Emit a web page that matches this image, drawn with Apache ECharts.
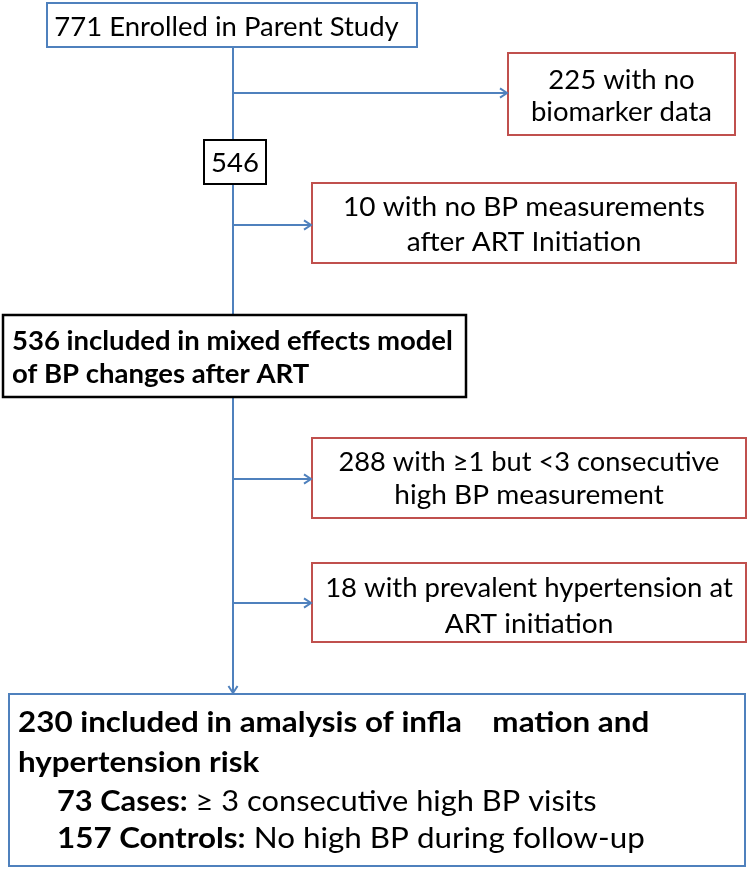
<!DOCTYPE html>
<html>
<head>
<meta charset="utf-8">
<script src="https://cdn.jsdelivr.net/npm/echarts@6/dist/echarts.min.js"></script>
<style>html,body{margin:0;padding:0;background:#fff;}#c{width:750px;height:871px;}</style>
</head>
<body>
<div id="c"></div>
<script>
// ---- data ----
const mainCounts = [771, 546, 536, 230];
const mainLabels = [
  ['Enrolled in Parent Study'],
  [''],
  ['included in mixed effects model', 'of BP changes after ART'],
  ['included in amalysis of infla    mation and', 'hypertension risk']
];
const exclusionCounts = [225, 10, 288, 18];
const exclusionLabels = [
  ['with no', 'biomarker data'],
  ['with no BP measurements', 'after ART Initiation'],
  ['with \u22651 but <3 consecutive', 'high BP measurement'],
  ['with prevalent hypertension at', 'ART initiation']
];
const groupCounts = [73, 157];
const groupNames = ['Cases:', 'Controls:'];
const groupDefs = ['\u2265 3 consecutive high BP visits', 'No high BP during follow-up'];

// ---- layout / style ----
const BLUE = '#4F81BD', RED = '#C0504D', BLACK = '#000';
const FONT = 'Lato, "Open Sans", sans-serif';
const LINE_X = 233;
const mainBoxes = [
  {x: 47, y: 3, w: 370, h: 44, color: BLUE},
  {x: 204, y: 140, w: 62, h: 44, color: BLACK},
  {x: 3, y: 315, w: 463, h: 82, color: BLACK},
  {x: 9, y: 694, w: 736, h: 172, color: BLUE}
];
const exclBoxes = [
  {x: 508, y: 53, w: 227, h: 82, arrowY: 93, lineY: [80, 112], sx: [1, 1]},
  {x: 312, y: 183, w: 424, h: 80, arrowY: 225, lineY: [207.5, 242.5], sx: [1.02, 1.02]},
  {x: 312, y: 438, w: 434, h: 80, arrowY: 479, lineY: [462.5, 495], sx: [0.99, 1.02]},
  {x: 312, y: 563, w: 434, h: 79, arrowY: 603, lineY: [588.5, 624], sx: [1.0, 1.02]}
];

const g = [];
function rect(b, color, lw) {
  g.push({type: 'rect', shape: {x: b.x, y: b.y, width: b.w, height: b.h},
    style: {fill: '#fff', stroke: color, lineWidth: lw}, z: 2});
}
function line(pts) {
  g.push({type: 'polyline', shape: {points: pts}, style: {stroke: BLUE, lineWidth: 2, fill: null}, z: 1});
}
function arrowHead(x, y, dir) {
  const s = 7;
  const pts = dir === 'right'
    ? [[x - s, y - s * 0.65], [x, y], [x - s, y + s * 0.65]]
    : [[x - s * 0.65, y - s], [x, y], [x + s * 0.65, y - s]];
  g.push({type: 'polyline', shape: {points: pts}, style: {stroke: BLUE, lineWidth: 2, fill: null}, z: 3});
}
function text(x, y, str, font, align, sx) {
  g.push({type: 'text', x: x, y: y, z: 4, scaleX: sx || 1,
    style: {text: str, fill: '#000', textAlign: align || 'center', textVerticalAlign: 'middle', font: font}});
}

// trunk line
line([[LINE_X, mainBoxes[0].y + mainBoxes[0].h], [LINE_X, mainBoxes[3].y - 1]]);
arrowHead(LINE_X, mainBoxes[3].y - 1, 'down');

// main boxes
mainBoxes.forEach((b, i) => rect(b, b.color, i === 2 ? 2.5 : 2));
text(226.5, 27, mainCounts[0] + ' ' + mainLabels[0][0], '27.5px ' + FONT);
text(235, 163.5, String(mainCounts[1]), '27.5px ' + FONT);
text(12, 341.5, mainCounts[2] + ' ' + mainLabels[2][0], 'bold 27.5px ' + FONT, 'left');
text(12, 374.5, mainLabels[2][1], 'bold 27.5px ' + FONT, 'left');

// final box
const SX = 1.12;
const BF = 'bold 28px ' + FONT, NF = '28px ' + FONT;
text(18, 722.5, mainCounts[3] + ' ' + mainLabels[3][0], BF, 'left', SX);
text(18, 762.5, mainLabels[3][1], BF, 'left', SX);
[801.5, 838.5].forEach((yy, i) => {
  g.push({type: 'text', x: 57, y: yy, z: 4, scaleX: i === 0 ? 1.1 : SX, style: {
    text: '{b|' + groupCounts[i] + ' ' + groupNames[i] + '}{n| ' + groupDefs[i] + '}',
    textAlign: 'left', textVerticalAlign: 'middle',
    rich: {b: {font: BF, fill: '#000'}, n: {font: NF, fill: '#000'}}
  }});
});

// exclusion boxes
exclBoxes.forEach((b, i) => {
  line([[LINE_X, b.arrowY], [b.x - 1, b.arrowY]]);
  arrowHead(b.x - 1, b.arrowY, 'right');
  rect(b, RED, 2);
  const cx = b.x + b.w / 2;
  text(cx, b.lineY[0], exclusionCounts[i] + ' ' + exclusionLabels[i][0], '27.5px ' + FONT, 'center', b.sx[0]);
  text(cx, b.lineY[1], exclusionLabels[i][1], '27.5px ' + FONT, 'center', b.sx[1]);
});

const chart = echarts.init(document.getElementById('c'), null, {renderer: 'canvas'});
chart.setOption({backgroundColor: '#fff', animation: false, graphic: {elements: g}});
</script>
</body>
</html>
